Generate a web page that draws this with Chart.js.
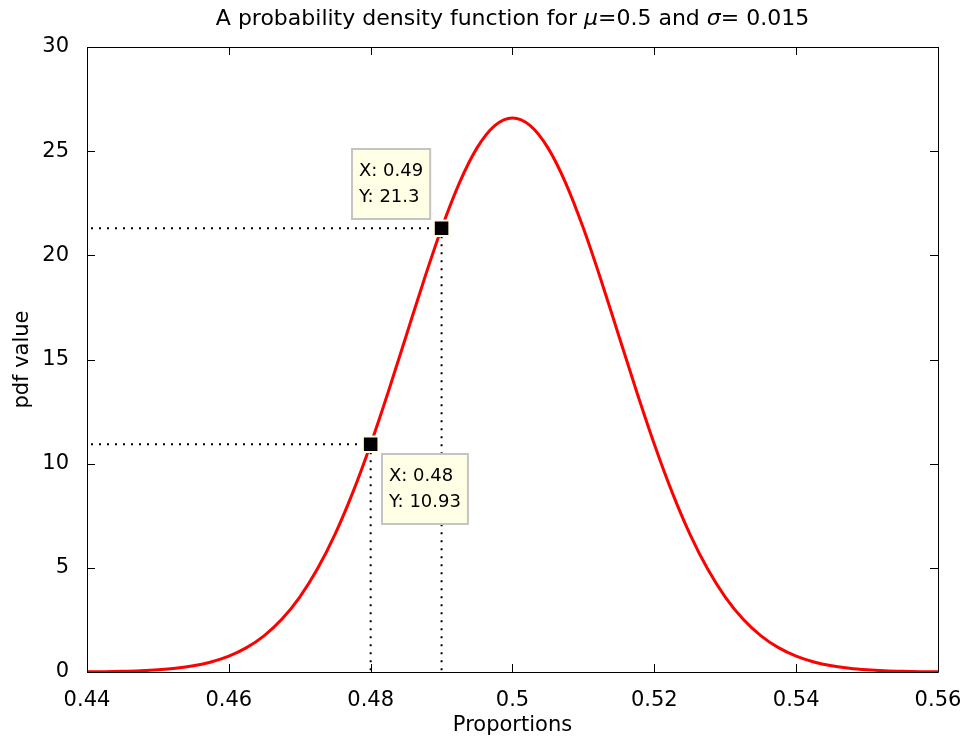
<!DOCTYPE html>
<html>
<head>
<meta charset="utf-8">
<script src="https://cdn.jsdelivr.net/npm/chart.js@4/dist/chart.umd.min.js"></script>
<style>
  html, body { margin: 0; padding: 0; background: #fff; }
  #wrap { width: 972px; height: 742px; }
</style>
</head>
<body>
<div id="wrap"><canvas id="pdf"></canvas></div>
<script>
// curve samples (proportion -> pdf value)
const propX = [0.44, 0.4425, 0.445, 0.4475, 0.45, 0.4525, 0.455, 0.4575, 0.46, 0.4625, 0.465, 0.4675,
  0.47, 0.4725, 0.475, 0.4775, 0.48, 0.4825, 0.485, 0.4875, 0.49, 0.4925, 0.495, 0.4975, 0.5,
  0.5025, 0.505, 0.5075, 0.51, 0.5125, 0.515, 0.5175, 0.52, 0.5225, 0.525, 0.5275, 0.53,
  0.5325, 0.535, 0.5375, 0.54, 0.5425, 0.545, 0.5475, 0.55, 0.5525, 0.555, 0.5575, 0.56];
const pdfY = [0.0089, 0.0172, 0.032, 0.0582, 0.1028, 0.1767, 0.2955, 0.4804, 0.7597, 1.1686, 1.7481, 2.5434,
  3.5994, 4.9535, 6.6317, 8.6343, 10.934, 13.467, 16.131, 18.795, 21.297, 23.471, 25.159, 26.229, 26.596,
  26.229, 25.159, 23.471, 21.297, 18.795, 16.131, 13.467, 10.934, 8.6343, 6.6317, 4.9535, 3.5994,
  2.5434, 1.7481, 1.1686, 0.7597, 0.4804, 0.2955, 0.1767, 0.1028, 0.0582, 0.032, 0.0172, 0.0089];

// data tips
const tipX = [0.48, 0.49];
const tipY = [10.93, 21.3];

// axis ticks
const xTicks = [0.44, 0.46, 0.48, 0.5, 0.52, 0.54, 0.56];
const yTicks = [0, 5, 10, 15, 20, 25, 30];

const FONT = "'DejaVu Sans', sans-serif";

// title with italic greek letters
const titlePlugin = {
  id: 'mTitle',
  afterDraw(chart) {
    const ctx = chart.ctx;
    const a = chart.chartArea;
    const parts = [
      ['A probability density function for ', false],
      ['\u03bc', true],
      ['=0.5 and ', false],
      ['\u03c3', true],
      ['= 0.015', false]
    ];
    ctx.save();
    ctx.fillStyle = '#000';
    ctx.textBaseline = 'middle';
    let total = 0;
    parts.forEach(p => {
      ctx.font = (p[1] ? 'italic ' : '') + '22px ' + FONT;
      total += ctx.measureText(p[0]).width;
    });
    let x = (a.left + a.right) / 2 - total / 2;
    parts.forEach(p => {
      ctx.font = (p[1] ? 'italic ' : '') + '22px ' + FONT;
      ctx.fillText(p[0], x, 19);
      x += ctx.measureText(p[0]).width;
    });
    ctx.restore();
  }
};

// axes box with inward tick marks
const boxPlugin = {
  id: 'mBox',
  afterDraw(chart) {
    const ctx = chart.ctx;
    const a = chart.chartArea;
    const xs = chart.scales.x, ys = chart.scales.y;
    const len = 8;
    ctx.save();
    ctx.strokeStyle = '#000';
    ctx.lineWidth = 1;
    ctx.beginPath();
    ctx.rect(a.left + 0.5, a.top + 0.5, a.right - a.left, a.bottom - a.top);
    xTicks.forEach(v => {
      const px = Math.round(xs.getPixelForValue(v)) + 0.5;
      ctx.moveTo(px, a.bottom); ctx.lineTo(px, a.bottom - len);
      ctx.moveTo(px, a.top); ctx.lineTo(px, a.top + len);
    });
    yTicks.forEach(v => {
      const py = Math.round(ys.getPixelForValue(v)) + 0.5;
      ctx.moveTo(a.left, py); ctx.lineTo(a.left + len, py);
      ctx.moveTo(a.right, py); ctx.lineTo(a.right - len, py);
    });
    ctx.stroke();
    ctx.restore();
  }
};

// dotted guide lines to each tip
const guidePlugin = {
  id: 'mGuides',
  beforeDatasetsDraw(chart) {
    const ctx = chart.ctx;
    const a = chart.chartArea;
    const xs = chart.scales.x, ys = chart.scales.y;
    ctx.save();
    ctx.strokeStyle = '#000';
    ctx.lineWidth = 2;
    ctx.setLineDash([2, 6]);
    tipX.forEach((v, i) => {
      const px = xs.getPixelForValue(v);
      const py = ys.getPixelForValue(tipY[i]);
      ctx.beginPath();
      ctx.moveTo(a.left + 4, py); ctx.lineTo(px, py);
      ctx.moveTo(px, py); ctx.lineTo(px, a.bottom);
      ctx.stroke();
    });
    ctx.restore();
  }
};

// datatip boxes
const tipPlugin = {
  id: 'mTips',
  afterDatasetsDraw(chart) {
    const ctx = chart.ctx;
    const xs = chart.scales.x, ys = chart.scales.y;
    const place = ['se', 'nw'];
    ctx.save();
    ctx.font = '18px ' + FONT;
    ctx.textBaseline = 'middle';
    tipX.forEach((v, i) => {
      const px = xs.getPixelForValue(v);
      const py = ys.getPixelForValue(tipY[i]);
      const lines = ['X: ' + v, 'Y: ' + tipY[i]];
      const w = Math.max(...lines.map(t => ctx.measureText(t).width)) + 16;
      const h = 72;
      let bx, by;
      if (place[i] === 'se') { bx = px + 10; by = py + 9; }
      else { bx = px - 10 - w; by = py - 8 - h; }
      bx = Math.round(bx); by = Math.round(by);
      ctx.fillStyle = '#ffffe6';
      ctx.fillRect(bx, by, w, h);
      ctx.strokeStyle = '#c4c4c4';
      ctx.lineWidth = 2;
      ctx.strokeRect(bx + 1, by + 1, w - 2, h - 2);
      ctx.fillStyle = '#000';
      lines.forEach((t, j) => ctx.fillText(t, bx + 8, by + 23 + j * 26));
    });
    ctx.restore();
  }
};

new Chart(document.getElementById('pdf'), {
  type: 'scatter',
  data: {
    datasets: [
      {
        label: 'tips',
        data: tipX.map((x, i) => ({ x, y: tipY[i] })),
        pointStyle: 'rect',
        pointRadius: 11,
        backgroundColor: '#000',
        borderColor: '#ffffe6',
        borderWidth: 2,
        showLine: false
      },
      {
        label: 'pdf',
        data: propX.map((x, i) => ({ x, y: pdfY[i] })),
        showLine: true,
        borderColor: '#ff0000',
        borderWidth: 3,
        pointRadius: 0,
        cubicInterpolationMode: 'monotone',
        fill: false
      }
    ]
  },
  options: {
    responsive: true,
    maintainAspectRatio: false,
    animation: false,
    events: [],
    layout: { padding: { top: 47, right: 34, left: 0, bottom: 0 } },
    plugins: {
      legend: { display: false },
      tooltip: { enabled: false }
    },
    scales: {
      x: {
        type: 'linear',
        min: 0.44,
        max: 0.56,
        afterBuildTicks: s => { s.ticks = xTicks.map(v => ({ value: v })); },
        afterFit: s => { s.height = 70; },
        grid: { display: false },
        border: { display: false },
        ticks: {
          color: '#000',
          padding: 8,
          maxRotation: 0,
          font: { family: FONT, size: 21 },
          callback: v => String(v)
        },
        title: {
          display: true,
          text: 'Proportions',
          color: '#000',
          font: { family: FONT, size: 21 },
          padding: { top: 0, bottom: 4 }
        }
      },
      y: {
        min: 0,
        max: 30,
        afterBuildTicks: s => { s.ticks = yTicks.map(v => ({ value: v })); },
        afterFit: s => { s.width = 87; },
        grid: { display: false },
        border: { display: false },
        ticks: {
          color: '#000',
          padding: 10,
          font: { family: FONT, size: 21 }
        },
        title: {
          display: true,
          text: 'pdf value',
          color: '#000',
          font: { family: FONT, size: 21 },
          padding: { top: 10, bottom: 0 }
        }
      }
    }
  },
  plugins: [guidePlugin, tipPlugin, boxPlugin, titlePlugin]
});
</script>
</body>
</html>
